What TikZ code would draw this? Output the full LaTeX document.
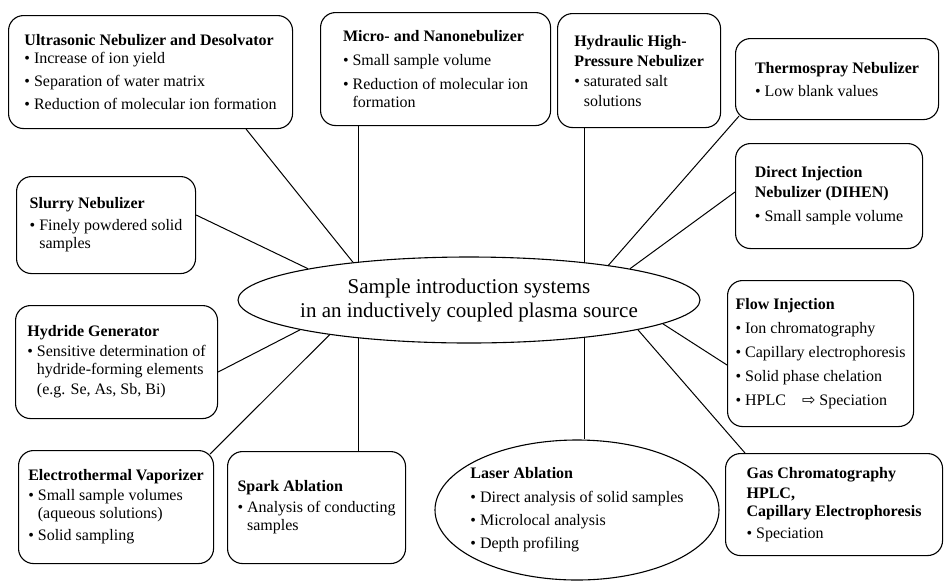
\documentclass[tikz,border=0pt]{standalone}
\usepackage{fontspec}
\setmainfont{Liberation Serif}
\newfontfamily\arrowfont{DejaVu Sans}
\usetikzlibrary{shapes.geometric}
\newcommand{\bitem}{\textbullet~}
\newcommand{\bhang}{\phantom{\textbullet~}}

\begin{document}
\begin{tikzpicture}[x=1pt,y=-1pt,
  sbox/.style={draw,rounded corners=15pt,line width=1.1pt,align=left,inner sep=2pt,anchor=north west,font=\fontsize{16}{18}\selectfont},
  oval/.style={draw,ellipse,line width=1.1pt,align=center},
  link/.style={line width=1pt}]
\useasboundingbox (0,0) rectangle (947,582);
% centre
\node[oval,inner xsep=-30pt,inner ysep=0pt,minimum width=462,minimum height=86,font=\fontsize{21}{24}\selectfont] (ctr) at (469,300)
  {Sample introduction systems\\in an inductively coupled plasma source};
% top row
\node[sbox,minimum width=284,minimum height=113] (us) at (8,15)
  {\textbf{Ultrasonic Nebulizer and Desolvator}\\\bitem Increase of ion yield\\[5pt]\bitem Separation of water matrix\\[5pt]\bitem Reduction of molecular ion formation};
\node[sbox,minimum width=230,minimum height=113] (mn) at (320,12)
  {\textbf{Micro- and Nanonebulizer}\\[6pt]\bitem Small sample volume\\[6pt]\bitem Reduction of molecular ion\\\bhang formation};
\node[sbox,minimum width=163,minimum height=114] (hp) at (557,13)
  {\textbf{Hydraulic High-}\\[2pt]\textbf{Pressure Nebulizer}\\[2pt]\bitem saturated salt\\[2pt]\bhang solutions};
% right column
\node[sbox,minimum width=203,minimum height=81] (ts) at (735,38)
  {\textbf{Thermospray Nebulizer}\\[5pt]\bitem Low blank values};
\node[sbox,minimum width=187,minimum height=105] (dh) at (735,143)
  {\textbf{Direct Injection}\\[2pt]\textbf{Nebulizer (DIHEN)}\\[6pt]\bitem Small sample volume};
\node[sbox,minimum width=186,minimum height=146] (fi) at (727,280)
  {\textbf{Flow Injection}\\[6pt]\bitem Ion chromatography\\[6pt]\bitem Capillary electrophoresis\\[6pt]\bitem Solid phase chelation\\[6pt]\bitem HPLC\quad{\arrowfont ⇨} Speciation};
\node[sbox,minimum width=217,minimum height=102] (gc) at (725,453)
  {\textbf{Gas Chromatography}\\[2pt]\textbf{HPLC,}\\\textbf{Capillary Electrophoresis}\\[4pt]\bitem Speciation};
% left column
\node[sbox,minimum width=179,minimum height=97] (sn) at (16,176)
  {\textbf{Slurry Nebulizer}\\[4pt]\bitem Finely powdered solid\\\bhang samples};
\node[sbox,minimum width=202,minimum height=113] (hg) at (15,305)
  {\textbf{Hydride Generator}\\[2pt]\bitem Sensitive determination of\\\bhang hydride-forming elements\\[2pt]\bhang (e.g. Se, As, Sb, Bi)};
% bottom row
\node[sbox,minimum width=195,minimum height=113] (ev) at (18,450)
  {\textbf{Electrothermal Vaporizer}\\[2pt]\bitem Small sample volumes\\\bhang (aqueous solutions)\\[4pt]\bitem Solid sampling};
\node[sbox,minimum width=178,minimum height=112] (sa) at (227,451)
  {\textbf{Spark Ablation}\\[3pt]\bitem Analysis of conducting\\\bhang samples};
\node[oval,align=left,inner xsep=-15pt,minimum width=284,minimum height=140,font=\fontsize{16}{18}\selectfont] (la) at (577,510)
  {\textbf{Laser Ablation}\\[6pt]\bitem Direct analysis of solid samples\\[5pt]\bitem Microlocal analysis\\[5pt]\bitem Depth profiling};
% spokes
\draw[link] (ctr.162.5) -- ([xshift=-47pt]us.south east);
\draw[link] (ctr.161) -- (ctr.161 |- mn.south);
\draw[link] (ctr.18) -- (ctr.18 |- hp.south);
\draw[link] (ctr.14) -- ([shift={(4pt,4pt)}]ts.south west);
\draw[link] (ctr.11.5) -- ([yshift=-49pt]dh.north west);
\draw[link] (ctr.-7.5) -- ([yshift=-85pt]fi.north west);
\draw[link] (ctr.-10) -- ([xshift=20pt]gc.north west);
\draw[link] (ctr.-18.4) -- (ctr.-18.4 |- la.north);
\draw[link] (ctr.199) -- (ctr.199 |- sa.north);
\draw[link] (ctr.194) -- ([shift={(-4pt,-4pt)}]ev.north east);
\draw[link] (ctr.190) -- ([yshift=-67pt]hg.north east);
\draw[link] (ctr.169) -- ([yshift=-39pt]sn.north east);
\end{tikzpicture}
\end{document}
